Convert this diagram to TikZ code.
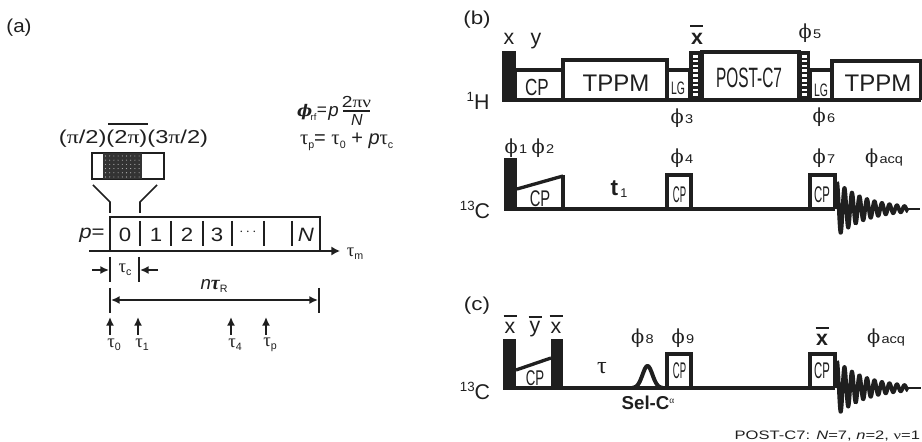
\documentclass[tikz,border=0pt]{standalone}
\usepackage{fontspec}
\usetikzlibrary{arrows.meta}
\setmainfont{Liberation Sans}
\newfontfamily\grk{Liberation Serif}
\newfontfamily\phf{DejaVu Serif}
\newcommand{\fs}[1]{\fontsize{#1}{#1}\selectfont}
\newcommand{\pii}{{\grk π}}
\newcommand{\PH}[1]{{\fs{14.5}\phf ϕ}\kern1pt{\fs{9.5}\scalebox{1.15}[1]{#1}}}
\newcommand{\TS}[1]{{\fs{14}\grk τ}{\fs{8}\raisebox{-2.5pt}{#1}}}
\newcommand{\nar}[2]{\scalebox{#1}[1]{#2}}
\tikzset{
  lab/.style={inner sep=0pt,outer sep=0pt,anchor=center},
  thk/.style={line width=2.5pt,line cap=butt,line join=miter},
  med/.style={line width=1.6pt,line cap=butt},
  thn/.style={line width=1.2pt,line cap=butt},
  bx/.style={thk,draw=black!88,fill=white},
  tipa/.style={-{Latex[length=6.5pt,width=6pt]},line width=1.2pt},
  tipb/.style={{Latex[length=6.5pt,width=6pt]}-{Latex[length=6.5pt,width=6pt]},line width=1.2pt},
}
\begin{document}
\begin{tikzpicture}[x=0.75pt,y=-0.75pt,black!88]
\useasboundingbox (0,0) rectangle (922,442);
%% ---------- panel (a)
\node[lab] (la) at (19,28) {\fs{14}\nar{1.1}{(a)}};
\node[lab] (phases) at (133.5,139) {\fs{14}\nar{1.27}{(\pii/2)(2\pii)(3\pii/2)}};
\coordinate (ba) at (108,124); \coordinate (bb) at (148,124);
\draw[med] (ba) -- (bb);
\draw[line width=1.5pt,fill=white] (92,153) rectangle (164,179);
\fill[black!80] (103,153) rectangle (142,179);
\foreach \i in {0,...,8}{\foreach \j in {0,...,5}{
  \fill[white!75!black] (105.5+\i*4.2,156+\j*4.2) circle (0.55);}}
\coordinate (zl0) at (93,185); \coordinate (zl1) at (110,202); \coordinate (zl2) at (110,213);
\coordinate (zr0) at (157,185); \coordinate (zr1) at (140,202); \coordinate (zr2) at (140,213);
\draw[thn] (zl0) -- (zl1) -- (zl2);
\draw[thn] (zr0) -- (zr1) -- (zr2);
\draw[line width=1.3pt] (110,251) -- (110,217) -- (320,217) -- (320,251);
\foreach \x in {140,171,203,232,264,292} \draw[line width=1.4pt] (\x,221) -- (\x,246);
\node[lab] (pe) at (92,235) {\fs{14.5}\nar{1.15}{\textit{p}=}};
\foreach \x/\t/\n in {125/0/c0,156/1/c1,187/2/c2,217/3/c3,306/\textit{N}/cN}
  \node[lab] (\n) at (\x,235) {\fs{14.5}\nar{1.15}{\t}};
\node[lab] (cd) at (248,232) {\fs{11}$\cdots$};
\coordinate (axa) at (89,251); \coordinate (axb) at (340,251);
\draw[-{Latex[length=6.5pt,width=7pt]},line width=2.1pt] (axa) -- (axb);
\node[lab] (tm) at (355,254) {\TS{m}};
\draw[thn] (110,257) -- (110,282);
\draw[thn] (139,257) -- (139,282);
\coordinate (ca) at (92,270); \coordinate (cb) at (109,270);
\coordinate (cc) at (158,270); \coordinate (cd2) at (140,270);
\draw[tipa] (ca) -- (cb);
\draw[tipa] (cc) -- (cd2);
\node[lab] (tc) at (125,270) {\TS{c}};
\draw[thn] (110,288) -- (110,313);
\draw[thn] (319,288) -- (319,313);
\coordinate (na) at (111,300); \coordinate (nb) at (318,300);
\draw[tipb] (na) -- (nb);
\node[lab] (nt) at (214,286) {\fs{14}\textit{n}{\fs{15}\grk\bfseries\itshape τ}{\fs{8}\raisebox{-2.5pt}{R}}};
\foreach \x/\s/\n/\lx in {110/0/u0/114,138/1/u1/142,231/4/u4/235,266/p/up/270}{
  \coordinate (\n a) at (\x,335); \coordinate (\n b) at (\x,317);
  \draw[tipa] (\n a) -- (\n b);
  \node[lab] (\n t) at (\lx,345) {\TS{\s}};
}
\node[lab] (frn) at (356.5,102) {\fs{12}\nar{1.2}{2\pii{\grk ν}}};
\node[lab] (frd) at (357,120) {\fs{12}\textit{N}};
\coordinate (fa) at (343,111); \coordinate (fb) at (370,111);
\draw[thn] (fa) -- (fb);
\node[lab,anchor=west] (f1) at (297,112) {{\fs{12}\phf\bfseries\itshape ϕ}\kern-1pt{\fs{7}\raisebox{-3pt}{rf}}};
\node[lab] (f1e) at (322,111) {\fs{13}=};
\node[lab] (f1p) at (333.5,113) {\fs{14}\textit{p}};
\node[lab,anchor=west] (f2) at (300,142) {\fs{15.5}\grk τ{\fs{8}\rmfamily\raisebox{-2.5pt}{p}}\fs{15}\rmfamily= {\fs{15.5}\grk τ}{\fs{8}\raisebox{-2.5pt}{0}} + \textit{p}{\fs{15.5}\grk τ}{\fs{8}\raisebox{-2.5pt}{c}}};
%% ---------- panel (b)
\node[lab] (lb) at (477,20) {\fs{14}\nar{1.2}{(b)}};
\node[lab] (h1) at (478,101) {{\fs{10}\raisebox{6pt}{1}}\fs{16}H};
\draw[bx] (515,100) -- (515,70) -- (563,70) -- (563,100);
\draw[bx] (563,100) -- (563,60) -- (667,60) -- (667,100);
\draw[bx] (667,100) -- (667,70) -- (690,70) -- (690,100);
\draw[bx] (702,100) -- (702,52) -- (799,52) -- (799,100);
\draw[bx] (810,100) -- (810,70) -- (832,70) -- (832,100);
\draw[bx] (832,100) -- (832,61) -- (921,61) -- (921,100);
\fill[black!88] (502,51) rectangle (516,102);
\draw[line width=3pt] (502,100) -- (921,100);
\foreach \xa/\xb in {689/702,799/810}{
  \fill[black!88] (\xa,51) rectangle (\xb,102);
  \draw[white,line width=3.4pt,dash pattern=on 2pt off 1.6pt] ({(\xa+\xb)/2},55) -- ({(\xa+\xb)/2},98);
}
\node[lab] (cpb) at (537,87) {\fs{17.5}\nar{.73}{CP}};
\node[lab] (tp1) at (616,83) {\fs{18}TPPM};
\node[lab] (lg1) at (678,88) {\fs{13.5}\nar{.58}{LG}};
\node[lab] (pc7) at (749,78) {\fs{21}\nar{.55}{POST-C7}};
\node[lab] (lg2) at (821,90) {\fs{13.5}\nar{.58}{LG}};
\node[lab] (tp2) at (878,83) {\fs{18}TPPM};
\node[lab] (xt) at (509,39) {\fs{16}x};
\node[lab] (yt) at (536,41) {\fs{16}y};
\node[lab] (xb1) at (697,39) {\fs{16}\textbf{x}};
\coordinate (xb1a) at (690,26); \coordinate (xb1b) at (703,26);
\draw[med] (xb1a) -- (xb1b);
\node[lab] (ph3) at (682,118) {\PH{3}};
\node[lab] (ph5) at (810,33) {\PH{5}};
\node[lab] (ph6) at (824,117) {\PH{6}};
%% 13C (b)
\node[lab] (c1) at (475,210) {{\fs{10}\raisebox{6pt}{13}}\fs{16}C};
\fill[black!88] (504,158) rectangle (517,211);
\draw[thk] (517,189) -- (563,176);
\draw[line width=2.5pt] (563,175) -- (563,209);
\draw[bx] (667,209) -- (667,175) -- (691,175) -- (691,209);
\draw[bx] (810,209) -- (810,175) -- (835,175) -- (835,209);
\draw[line width=3pt] (504,209) -- (835,209);
\draw[line width=2.9pt,line join=round] plot[domain=837:908,samples=400] (\x,{209-27*exp(-(\x-837)/30)*cos(48*(\x-837))});
\draw[line width=2pt] (905,209) -- (920,209);
\node[lab] (cpr) at (540,199) {\fs{17}\nar{.65}{CP}};
\node[lab] (cp4) at (679.5,195) {\fs{17}\nar{.42}{CP}};
\node[lab] (cp7) at (822,195) {\fs{17}\nar{.5}{CP}};
\node[lab] (ph1) at (516,148) {\PH{1}};
\node[lab] (ph2) at (543,148) {\PH{2}};
\node[lab] (ph4) at (682,158) {\PH{4}};
\node[lab] (ph7) at (824,158) {\PH{7}};
\node[lab] (pha) at (884,158) {\PH{acq}};
\node[lab] (t1) at (619,189) {\fs{17}\textbf{t}{\fs{9.5}\,\raisebox{-2pt}{1}}};
%% ---------- panel (c)
\node[lab] (lc) at (477,306) {\fs{14}\nar{1.2}{(c)}};
\node[lab] (c2) at (475,391) {{\fs{10}\raisebox{6pt}{13}}\fs{16}C};
\fill[black!88] (503,339) rectangle (516,390);
\fill[black!88] (551,339) rectangle (563,390);
\draw[thk] (516,370) -- (551,358);
\draw[bx] (667,388) -- (667,354) -- (691,354) -- (691,388);
\draw[bx] (810,388) -- (810,354) -- (835,354) -- (835,388);
\draw[line width=3pt] (503,388) -- (835,388);
\draw[line width=3pt,line join=round] plot[domain=632:663,samples=60] (\x,{388-22*exp(-((\x-647.5)/7)^2)});
\draw[line width=2.9pt,line join=round] plot[domain=837:908,samples=400] (\x,{388-27*exp(-(\x-837)/30)*cos(48*(\x-837))});
\draw[line width=2pt] (905,388) -- (921,388);
\node[lab] (cpc) at (535,378) {\fs{16}\nar{.62}{CP}};
\node[lab] (cp9) at (679.5,371) {\fs{17}\nar{.42}{CP}};
\node[lab] (cp10) at (822,371) {\fs{17}\nar{.5}{CP}};
\node[lab] (tau) at (602,368) {\fs{18}\grk τ};
\node[lab] (ph8) at (642.5,338) {\PH{8}};
\node[lab] (ph9) at (683,338) {\PH{9}};
\node[lab] (sel) at (648,403) {\fs{14}\textbf{Sel-C}{\fs{7}\raisebox{5pt}{\grk α}}};
\node[lab] (pha2) at (886,338) {\PH{acq}};
\foreach \x/\s/\n/\y in {510/x/xa/328,535/y/ya/329,556/x/xc/328,822/\textbf{x}/xd/340}{
  \node[lab] (\n) at (\x,\y) {\fs{16}\s};
  \coordinate (\n a) at (\x-6.5,\y-12); \coordinate (\n b) at (\x+6.5,\y-12);
  \draw[med] (\n a) -- (\n b);
}
\node[lab,anchor=east] (cap) at (920,436) {\fs{9.2}\nar{1.35}{POST-C7: \textit{N}=7, \textit{n}=2, {\grk ν}=1}};
\end{tikzpicture}
\end{document}
